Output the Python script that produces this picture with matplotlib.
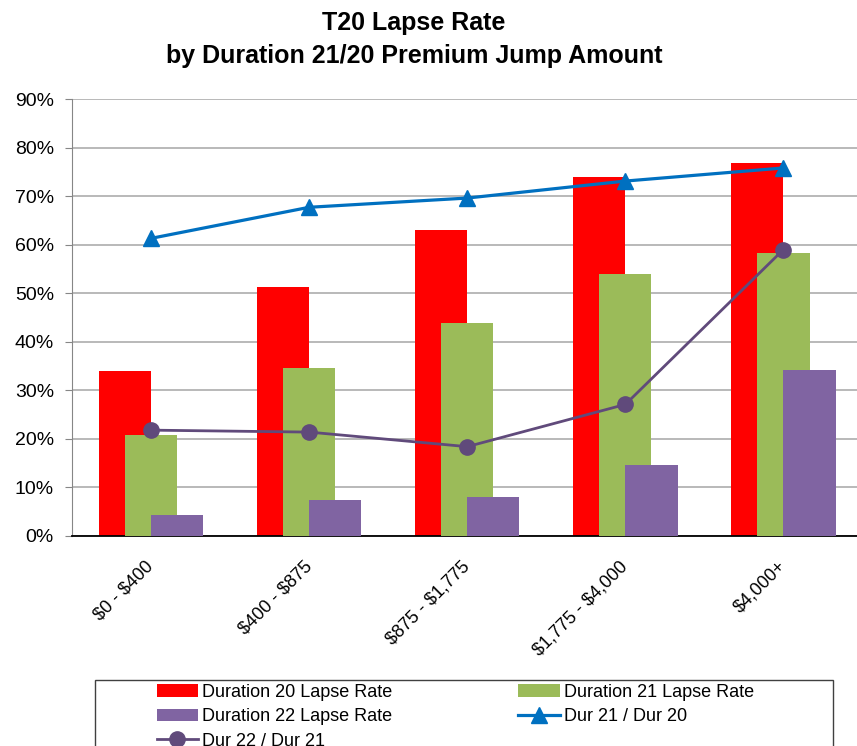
import numpy as np
import matplotlib
matplotlib.use("Agg")
from matplotlib import pyplot as plt
from matplotlib.patches import Rectangle
from matplotlib.ticker import PercentFormatter

plt.rcParams['font.family'] = ['Liberation Sans', 'DejaVu Sans']

# data
categories = [r"\$0 - \$400", r"\$400 - \$875", r"\$875 - \$1,775", r"\$1,775 - \$4,000", r"\$4,000+"]
dur20 = [0.339, 0.512, 0.630, 0.739, 0.768]
dur21 = [0.208, 0.346, 0.438, 0.540, 0.582]
dur22 = [0.044, 0.074, 0.080, 0.146, 0.342]
ratio_21_20 = [0.613, 0.677, 0.696, 0.731, 0.758]
ratio_22_21 = [0.218, 0.214, 0.184, 0.271, 0.590]

W, H = 857, 746
fig = plt.figure(figsize=(W / 100, H / 100), dpi=100)
ax = fig.add_axes([72 / W, 1 - 536 / H, 1 - 72 / W, (536 - 99) / H])

x = np.arange(len(categories))
w = 0.33
off = 0.165
b20 = ax.bar(x - off, dur20, w, color="#FF0000", label="Duration 20 Lapse Rate", zorder=2)
b21 = ax.bar(x, dur21, w, color="#9BBB59", label="Duration 21 Lapse Rate", zorder=3)
b22 = ax.bar(x + off, dur22, w, color="#8064A2", label="Duration 22 Lapse Rate", zorder=4)
l1, = ax.plot(x, ratio_21_20, color="#0070C0", lw=2.3, marker="^", ms=11,
              label="Dur 21 / Dur 20", zorder=5)
l2, = ax.plot(x, ratio_22_21, color="#604A7B", lw=2.0, marker="o", ms=11,
              label="Dur 22 / Dur 21", zorder=6)

ax.set_xlim(-0.5, 4.465)
ax.set_ylim(0, 0.9)
ax.set_yticks(np.arange(0, 0.91, 0.1))
ax.yaxis.set_major_formatter(PercentFormatter(1.0, decimals=0))
ax.grid(axis="y", color="#A6A6A6", lw=1.1, zorder=0)
ax.set_axisbelow(True)

for s in ["top", "right"]:
    ax.spines[s].set_visible(False)
ax.spines["left"].set_color("#868686")
ax.spines["bottom"].set_color("black")
ax.spines["bottom"].set_linewidth(1.3)

ax.tick_params(axis="y", length=5, color="#868686", labelsize=14, pad=8)
ax.tick_params(axis="x", length=0, labelsize=13, pad=20)
ax.set_xticks(x)
ax.set_xticklabels(categories, rotation=45, ha="right", va="center", rotation_mode="anchor")

fig.text(0.483, 1 - 30 / H, "T20 Lapse Rate", ha="center", va="baseline",
         fontsize=18, fontweight="bold")
fig.text(0.483, 1 - 63 / H, "by Duration 21/20 Premium Jump Amount", ha="center",
         va="baseline", fontsize=18, fontweight="bold")

# legend box (cut off by the bottom of the image, as in the original)
fig.patches.append(Rectangle((95 / W, -20 / H), (833 - 95) / W, (20 + H - 680) / H,
                             transform=fig.transFigure, fill=False,
                             edgecolor="#404040", lw=1))
fig.legend([b20, b22, l2, b21, l1],
           [h.get_label() for h in [b20, b22, l2, b21, l1]],
           ncol=2, loc="upper left", bbox_to_anchor=(144 / W, 1 - 671 / H),
           frameon=False, fontsize=13, handlelength=2.3, handletextpad=0.2,
           columnspacing=7.0, labelspacing=0.42, borderpad=0.2)

fig.savefig("out.png", dpi=100)
